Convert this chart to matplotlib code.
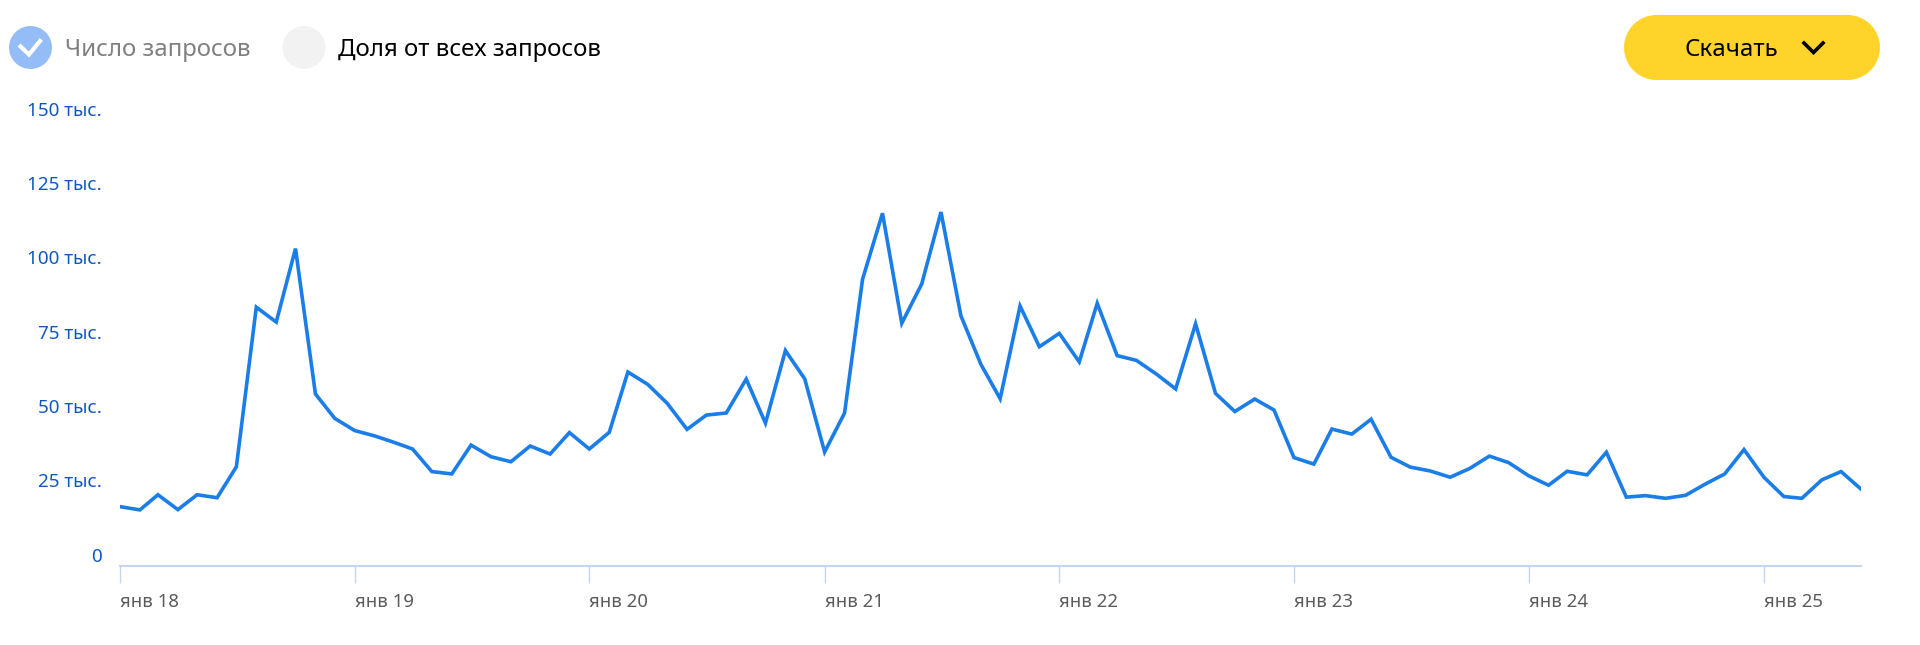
import matplotlib
matplotlib.use('Agg')
import matplotlib.pyplot as plt
import pandas as pd
from matplotlib.patches import Circle, Rectangle

plt.rcParams['font.family'] = ['Noto Sans', 'DejaVu Sans']

# monthly values, thousands
months = pd.date_range('2018-01-01', '2025-06-01', freq='MS')
requests = [
    19.8, 18.7, 23.8, 18.8, 23.8, 22.8, 33.2, 86.9, 81.9, 106.6, 57.7, 49.5,
    45.4, 43.6, 41.6, 39.2, 31.6, 30.8, 40.5, 36.6, 34.9, 40.2, 37.5, 44.7,
    39.2, 44.8, 65.1, 60.9, 54.6, 45.8, 50.6, 51.3, 62.7, 47.9, 72.3, 62.8,
    38.2, 51.3, 96.3, 118.5, 81.5, 94.7, 118.9, 84.0, 67.7, 56.1, 87.3, 73.6,
    78.1, 68.5, 88.2, 70.6, 69.0, 64.4, 59.4, 81.3, 57.9, 51.8, 56.0, 52.3,
    36.3, 34.1, 45.9, 44.2, 49.2, 36.4, 33.1, 31.8, 29.7, 32.6, 36.8, 34.6,
    30.2, 27.0, 31.7, 30.5, 38.1, 23.0, 23.5, 22.6, 23.6, 27.3, 30.8, 39.0,
    29.7, 23.2, 22.6, 28.8, 31.6, 25.7,
]
y_ticks = [0, 25, 50, 75, 100, 125, 150]
y_labels = ['0', '25 тыс.', '50 тыс.', '75 тыс.', '100 тыс.', '125 тыс.', '150 тыс.']
x_ticks = pd.date_range('2018-01-01', '2025-01-01', freq='YS')
x_labels = ['янв 18', 'янв 19', 'янв 20', 'янв 21', 'янв 22', 'янв 23', 'янв 24', 'янв 25']

W, H = 1920, 645
fig = plt.figure(figsize=(W / 100, H / 100), dpi=100)

# plot area in pixels: left 120, right 1861, bottom 565.5, top 100
ax = fig.add_axes([120 / W, (H - 565.5) / H, (1861 - 120) / W, (565.5 - 100) / H])
ax.plot(months, requests, color='#1a7de8', lw=2.6, solid_joinstyle='miter')
ax.set_xlim(months[0], months[-1])
ax.set_ylim(0, 156.6)

ax.set_yticks(y_ticks, y_labels, fontsize=13.6, color='#1058c0', va='bottom')
ax.tick_params(axis='y', length=0, pad=13)
ax.set_xticks(x_ticks, x_labels, fontsize=13.4, color='#5c5c5c', ha='left')
ax.tick_params(axis='x', length=12.5, width=1, color='#c6d6ef', pad=7)

for s in ['top', 'left', 'right']:
    ax.spines[s].set_visible(False)
ax.spines['bottom'].set_color('#c6d6ef')
ax.spines['bottom'].set_linewidth(1.5)

# header controls drawn on a pixel-sized overlay
ui = fig.add_axes([0, 0, 1, 1])
ui.set_xlim(0, W)
ui.set_ylim(H, 0)
ui.axis('off')

ui.add_patch(Circle((30.5, 47.5), 21.5, color='#94bdf7', lw=0))
ui.plot([20.5, 29, 40], [46.5, 54.5, 41], color='white', lw=3, solid_joinstyle='miter')
ui.text(65, 47.5, 'Число запросов', fontsize=17.3, color='#808080', va='center_baseline')
ui.add_patch(Circle((304, 47.5), 21.5, color='#f2f2f2', lw=0))
ui.text(338, 47.5, 'Доля от всех запросов', fontsize=17.3, color='black', va='center_baseline')

# pill-shaped button
ui.add_patch(Rectangle((1656.5, 15), 191, 65, fc='#fed42b', ec='none'))
ui.add_patch(Circle((1656.5, 47.5), 32.5, fc='#fed42b', ec='none'))
ui.add_patch(Circle((1847.5, 47.5), 32.5, fc='#fed42b', ec='none'))
ui.text(1684, 47.5, 'Скачать', fontsize=17.3, color='black', va='center_baseline')
ui.plot([1804, 1813.5, 1823], [43, 52.5, 43], color='black', lw=2.6, solid_joinstyle='miter')

fig.savefig('out.png', dpi=100)
